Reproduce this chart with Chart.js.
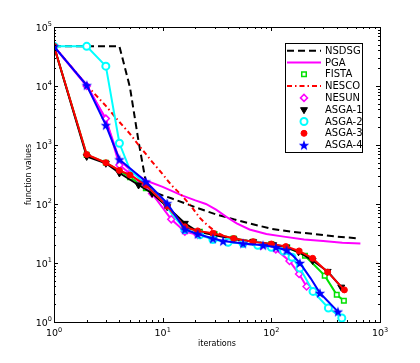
<!DOCTYPE html>
<html>
<head>
<meta charset="utf-8">
<script src="https://cdn.jsdelivr.net/npm/chart.js@4.4.1/dist/chart.umd.min.js"></script>
<style>
  html, body { margin: 0; padding: 0; background: #fff; }
</style>
</head>
<body>
<canvas id="chart" width="420" height="363"></canvas>
<script>
// values (log-log axes)
const xTicks = [1, 10, 100, 1000];
const yTicks = [1, 10, 100, 1000, 10000, 100000];

const nsdsgIter = [1, 2, 3, 4, 5, 6, 7, 8, 10, 12, 16, 20, 30, 45, 60, 100, 150, 250, 400, 650];
const nsdsgVals = [47000, 47000, 47000, 47000, 9500, 1150, 235, 165, 140, 125, 103, 88, 68, 55, 48, 38, 34, 31, 28, 26];

const pgaIter = [1, 2, 3, 4, 5, 7, 10, 15, 20, 25, 31, 40, 48, 63, 90, 130, 200, 300, 450, 660];
const pgaVals = [47000, 10500, 2700, 560, 380, 250, 195, 140, 115, 100, 80, 58, 47, 37, 31, 28, 25, 23.5, 22, 21.5];

const fistaIter = [1, 2, 3, 5, 7, 11, 16, 22, 30, 45, 68, 100, 140, 204, 310, 400, 465];
const fistaVals = [47000, 680, 500, 285, 185, 92, 40, 34, 31, 26, 23, 21, 18.5, 13.3, 6.1, 2.9, 2.3];

const nescoIter = [1, 2, 3, 4, 5, 6, 8, 10, 12, 15, 18, 22, 26, 30, 36, 48, 70, 100];
const nescoVals = [47000, 10300, 4600, 2450, 1550, 1000, 520, 320, 210, 140, 95, 58, 43, 35, 29, 24.5, 22, 20];

const nesunIter = [1, 2, 3, 4, 5, 8, 12, 16, 21, 29, 40, 55, 80, 110, 147, 180, 211];
const nesunVals = [47000, 10000, 2800, 457, 330, 150, 55, 34, 30, 26, 22.5, 21.5, 19.5, 17, 10.8, 6.5, 4];

const asga1Iter = [1, 2, 3, 4, 6, 8, 11, 16, 21, 29, 45, 68, 104, 136, 178, 240, 330, 440];
const asga1Vals = [47000, 640, 490, 335, 210, 152, 90, 47, 34, 30, 25.5, 23, 20.4, 18.5, 15.5, 11, 7.2, 3.9];

const asga2Iter = [1, 2, 3, 4, 5, 7, 10, 12, 16, 22, 29, 40, 55, 75, 100, 130, 155, 183, 242, 335, 445];
const asga2Vals = [47000, 47000, 21700, 1070, 380, 210, 112, 70, 37, 30, 25, 22.5, 21.5, 20, 18.5, 16, 12.5, 8.2, 3.3, 1.73, 1.17];

const asga3Iter = [1, 2, 3, 4, 5, 7, 11, 16, 21, 29, 45, 68, 100, 136, 180, 240, 330, 470];
const asga3Vals = [47000, 690, 500, 370, 310, 210, 92, 41, 35, 32, 26, 23, 21, 19, 16, 12, 7, 3.5];

const asga4Iter = [1, 2, 3, 4, 7, 11, 16, 21, 29, 36, 55, 84, 110, 138, 160, 183, 230, 280, 410];
const asga4Vals = [47000, 10300, 2170, 570, 240, 103, 37, 31, 26, 23.5, 21.5, 20, 18.5, 16.5, 13, 10, 5.5, 3.1, 1.5];

// line-only vertices (no marker drawn there)
const asga2Plain = [5, 7, 10, 12];
const asga4Plain = [160, 230];

function makeStar(size, color) {
    const c = document.createElement('canvas');
    c.width = size;
    c.height = size;
    const g = c.getContext('2d');
    const R = size / 2 - 0.5, r = R * 0.42;
    g.beginPath();
    for (let i = 0; i < 10; i++) {
        const a = -Math.PI / 2 + i * Math.PI / 5;
        const rad = i % 2 ? r : R;
        g.lineTo(size / 2 + rad * Math.cos(a), size / 2 + rad * Math.sin(a) + 0.5);
    }
    g.closePath();
    g.fillStyle = color;
    g.fill();
    return c;
}
const starImg = makeStar(12, '#0000ff');

function series(label, iters, vals, style, plain) {
    const ds = Object.assign({
        label: label,
        data: iters.map((x, i) => ({ x: x, y: vals[i] })),
        borderWidth: 2,
        fill: false,
        tension: 0,
        pointRadius: 0
    }, style);
    ds.markerRadius = ds.pointRadius;
    if (plain) {
        const r = ds.pointRadius;
        ds.pointRadius = ctx => (plain.includes(ctx.raw.x) ? 0 : r);
    }
    return ds;
}

const datasets = [
    series('NSDSG', nsdsgIter, nsdsgVals, { borderColor: '#000000', borderDash: [7, 4] }),
    series('PGA', pgaIter, pgaVals, { borderColor: '#ff00ff' }),
    series('FISTA', fistaIter, fistaVals, {
        borderColor: '#00e000', pointStyle: 'rect', pointRadius: 3.2,
        pointBorderColor: '#00e000', pointBackgroundColor: '#ffffff', pointBorderWidth: 1.5
    }),
    series('NESCO', nescoIter, nescoVals, { borderColor: '#ff0000', borderDash: [5, 3, 1.5, 3] }),
    series('NESUN', nesunIter, nesunVals, {
        borderColor: '#ff00ff', pointStyle: 'rectRot', pointRadius: 3.5,
        pointBorderColor: '#ff00ff', pointBackgroundColor: '#ffffff', pointBorderWidth: 1.5
    }),
    series('ASGA-1', asga1Iter, asga1Vals, {
        borderColor: '#000000', pointStyle: 'triangle', pointRotation: 180, pointRadius: 4,
        pointBorderColor: '#000000', pointBackgroundColor: '#000000', pointBorderWidth: 1
    }),
    series('ASGA-2', asga2Iter, asga2Vals, {
        borderColor: '#00ffff', pointStyle: 'circle', pointRadius: 3.5,
        pointBorderColor: '#00ffff', pointBackgroundColor: '#ffffff', pointBorderWidth: 2
    }, asga2Plain),
    series('ASGA-3', asga3Iter, asga3Vals, {
        borderColor: '#ff0000', pointStyle: 'circle', pointRadius: 3,
        pointBorderColor: '#ff0000', pointBackgroundColor: '#ff0000', pointBorderWidth: 1
    }),
    series('ASGA-4', asga4Iter, asga4Vals, { borderColor: '#0000ff', pointStyle: starImg, pointRadius: 6 }, asga4Plain)
];
// later series painted on top, like the original plot order
datasets.forEach((d, i) => { d.order = datasets.length - i; });

// inward ticks on all four sides, the frame and the 10^n tick labels
const framePlugin = {
    id: 'frame',
    afterDraw(chart) {
        const { ctx, chartArea: a, scales } = chart;
        ctx.save();
        ctx.strokeStyle = '#000';
        ctx.lineWidth = 1;
        ctx.beginPath();
        for (let d = 0; d < 3; d++) {
            for (let m = 1; m < 10; m++) {
                const px = Math.round(scales.x.getPixelForValue(m * Math.pow(10, d))) + 0.5;
                const len = m === 1 ? 4 : 2;
                ctx.moveTo(px, a.bottom); ctx.lineTo(px, a.bottom - len);
                ctx.moveTo(px, a.top); ctx.lineTo(px, a.top + len);
            }
        }
        for (let d = 0; d < 5; d++) {
            for (let m = 1; m < 10; m++) {
                const py = Math.round(scales.y.getPixelForValue(m * Math.pow(10, d))) + 0.5;
                const len = m === 1 ? 4 : 2;
                ctx.moveTo(a.left, py); ctx.lineTo(a.left + len, py);
                ctx.moveTo(a.right, py); ctx.lineTo(a.right - len, py);
            }
        }
        ctx.stroke();
        ctx.strokeRect(Math.round(a.left) + 0.5, Math.round(a.top) + 0.5,
            Math.round(a.right - a.left), Math.round(a.bottom - a.top));

        const big = '9.5px "DejaVu Sans"', small = '6.5px "DejaVu Sans"';
        ctx.fillStyle = '#000';
        ctx.textBaseline = 'alphabetic';
        ctx.textAlign = 'left';
        xTicks.forEach(v => {
            const e = String(Math.round(Math.log10(v)));
            const px = scales.x.getPixelForValue(v);
            ctx.font = big;
            const w1 = ctx.measureText('10').width;
            ctx.font = small;
            const w2 = ctx.measureText(e).width;
            const x0 = px - (w1 + w2) / 2;
            ctx.font = big;
            ctx.fillText('10', x0, a.bottom + 14);
            ctx.font = small;
            ctx.fillText(e, x0 + w1, a.bottom + 9.5);
        });
        yTicks.forEach(v => {
            const e = String(Math.round(Math.log10(v)));
            const py = scales.y.getPixelForValue(v);
            ctx.font = small;
            const w2 = ctx.measureText(e).width;
            ctx.font = big;
            const w1 = ctx.measureText('10').width;
            const x1 = a.left - 2;
            ctx.fillText('10', x1 - w2 - w1, py + 3.6);
            ctx.font = small;
            ctx.fillText(e, x1 - w2, py - 1);
        });
        ctx.restore();
    }
};

// matplotlib style legend box
const legendPlugin = {
    id: 'boxLegend',
    afterDraw(chart) {
        const ctx = chart.ctx;
        const x0 = 285.5, y0 = 43.5, w = 77, h = 109;
        ctx.save();
        ctx.fillStyle = '#fff';
        ctx.fillRect(x0, y0, w, h);
        ctx.strokeStyle = '#000';
        ctx.lineWidth = 1;
        ctx.strokeRect(x0, y0, w, h);
        ctx.font = '10px "DejaVu Sans"';
        ctx.textBaseline = 'middle';
        chart.data.datasets.forEach((ds, i) => {
            const cy = 50.7 + i * 11.8;
            if (!ds.markerRadius) {
                ctx.strokeStyle = ds.borderColor;
                ctx.lineWidth = 2;
                ctx.setLineDash(ds.borderDash || []);
                ctx.beginPath();
                ctx.moveTo(287, cy);
                ctx.lineTo(321, cy);
                ctx.stroke();
                ctx.setLineDash([]);
            } else {
                ctx.fillStyle = ds.pointBackgroundColor || ds.borderColor;
                ctx.strokeStyle = ds.pointBorderColor || ds.borderColor;
                ctx.lineWidth = ds.pointBorderWidth || 1;
                Chart.helpers.drawPoint(ctx, {
                    pointStyle: ds.pointStyle,
                    rotation: ds.pointRotation || 0,
                    radius: ds.markerRadius,
                    borderWidth: ds.pointBorderWidth || 0
                }, 304, cy);
            }
            ctx.fillStyle = '#000';
            ctx.fillText(ds.label, 325, cy + 0.5);
        });
        ctx.restore();
    }
};

new Chart(document.getElementById('chart'), {
    type: 'line',
    data: { datasets: datasets },
    options: {
        responsive: false,
        animation: false,
        events: [],
        layout: { padding: { left: 0, right: 40, top: 27, bottom: 0 } },
        plugins: { legend: { display: false }, tooltip: { enabled: false } },
        scales: {
            x: {
                type: 'logarithmic',
                min: 1,
                max: 1000,
                grid: { display: false, drawTicks: false },
                border: { display: false },
                ticks: { display: false },
                title: {
                    display: true,
                    text: 'iterations',
                    color: '#000',
                    font: { family: 'DejaVu Sans', size: 8 },
                    padding: { top: 0, bottom: 14 }
                },
                afterFit: s => { s.height = 41; }
            },
            y: {
                type: 'logarithmic',
                min: 1,
                max: 100000,
                grid: { display: false, drawTicks: false },
                border: { display: false },
                ticks: { display: false },
                title: {
                    display: true,
                    text: 'function values',
                    color: '#000',
                    font: { family: 'DejaVu Sans', size: 8 },
                    padding: { top: 24, bottom: 0 }
                },
                afterFit: s => { s.width = 54; }
            }
        }
    },
    plugins: [framePlugin, legendPlugin]
});
</script>
</body>
</html>
